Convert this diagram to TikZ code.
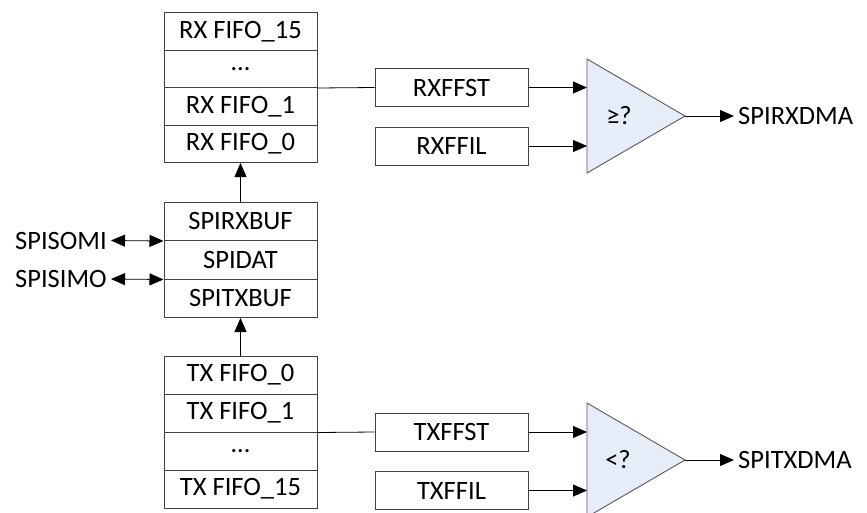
\documentclass[tikz,border=0pt]{standalone}
\usepackage{fontspec}
\setmainfont{Carlito}
\usetikzlibrary{arrows.meta,positioning}
\definecolor{cmpfill}{HTML}{E7EDF8}

\begin{document}
\begin{tikzpicture}[x=1pt, y=-1pt,
      every node/.style={font=\fontsize{26.5}{30}\selectfont},
      cell/.style={draw=black!75, line width=1pt, minimum width=153pt, minimum height=37.5pt, inner sep=0pt},
      reg/.style={draw=black!75, line width=1pt, minimum width=153pt, minimum height=38pt, inner sep=0pt},
      lab/.style={inner sep=4pt},
      cmp/.style={draw=black!65, line width=0.9pt, fill=cmpfill},
      wire/.style={line width=0.8pt, -{Triangle[length=14pt,width=12pt]}},
      both/.style={line width=0.8pt, {Triangle[length=14pt,width=12pt]}-{Triangle[length=14pt,width=12pt]}}
    ]
    \useasboundingbox (0,0) rectangle (867,512);
    % RX FIFO stack
    \foreach \n/\t [count=\i] in {rx15/RX FIFO\_15, rxdots/\dots, rx1/RX FIFO\_1, rx0/RX FIFO\_0}{
      \node[cell] (\n) at (240.5,{12.5+37.5*(\i-0.5)}) {\t};
    }
    % shift register and buffers
    \foreach \n/\t [count=\i] in {rxbuf/SPIRXBUF, dat/SPIDAT, txbuf/SPITXBUF}{
      \node[cell, minimum height=38.5pt] (\n) at (240.5,{202+38.5*(\i-0.5)}) {\t};
    }
    % TX FIFO stack
    \foreach \n/\t [count=\i] in {tx0/TX FIFO\_0, tx1/TX FIFO\_1, txdots/\dots, tx15/TX FIFO\_15}{
      \node[cell, minimum height=38pt] (\n) at (240.5,{356+38*(\i-0.5)}) {\t};
    }
    \draw[wire] (rxbuf.north) -- (rx0.south);
    \draw[wire] (tx0.north) -- (txbuf.south);
    % pins
    \node[lab, anchor=east] (somi) at (111,240.5) {SPISOMI};
    \node[lab, anchor=east] (simo) at (111,279) {SPISIMO};
    \draw[both] (somi.east) -- (rxbuf.south west);
    \draw[both] (simo.east) -- (dat.south west);
    % status and level registers
    \node[reg] (rxffst) at (451.5,87.5) {RXFFST};
    \node[reg] (rxffil) at (451.5,146) {RXFFIL};
    \node[reg] (txffst) at (451.5,432) {TXFFST};
    \node[reg] (txffil) at (451.5,490.5) {TXFFIL};
    \draw[line width=0.8pt] (rxdots.south east) -- (rxffst.west);
    \draw[line width=0.8pt] (tx1.south east) -- (txffst.west);
    % comparators
    \coordinate (rxa) at (587,87.5);
    \coordinate (rxb) at (587,146);
    \coordinate (rxcmp) at (685,116);
    \draw[cmp] (587,59) -- (rxcmp) -- (587,173) -- cycle;
    \node (rxop) at (619,116) {≥?};
    \coordinate (txa) at (587,432);
    \coordinate (txb) at (587,490.5);
    \coordinate (txcmp) at (685,460);
    \draw[cmp] (587,403) -- (txcmp) -- (587,517) -- cycle;
    \node (txop) at (618,460) {<?};
    \draw[wire] (rxffst.east) -- (rxa);
    \draw[wire] (rxffil.east) -- (rxb);
    \draw[wire] (txffst.east) -- (txa);
    \draw[wire] (txffil.east) -- (txb);
    % DMA requests
    \node[lab, anchor=west] (rxdma) at (734,116) {SPIRXDMA};
    \node[lab, anchor=west] (txdma) at (734,460) {SPITXDMA};
    \draw[wire] (rxcmp) -- (rxdma.west);
    \draw[wire] (txcmp) -- (txdma.west);
  \end{tikzpicture}
\end{document}
